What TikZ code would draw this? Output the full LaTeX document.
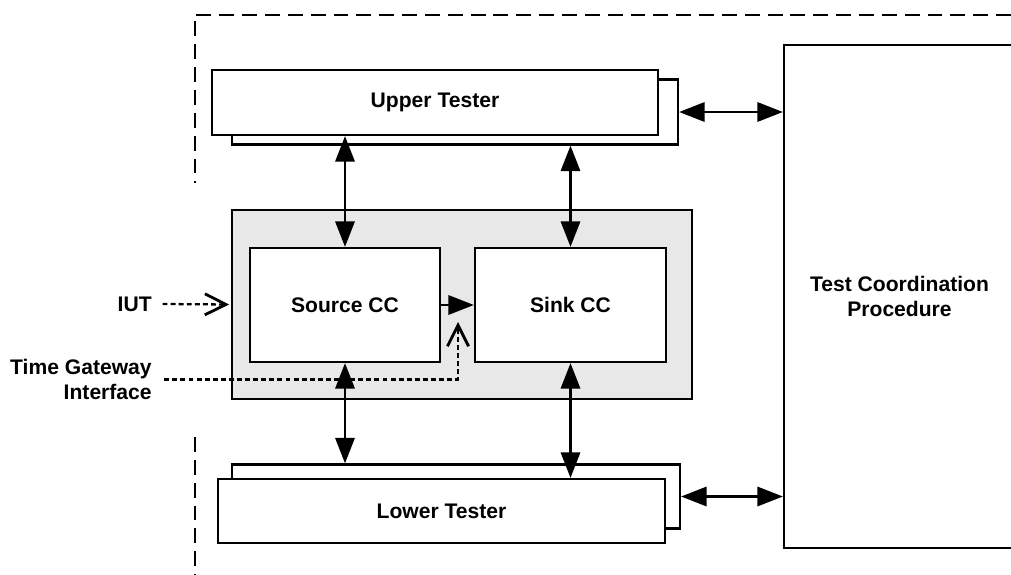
\documentclass[tikz,border=0pt]{standalone}
\usepackage{fontspec}
\setmainfont{Liberation Sans}
\usepackage{tikz}
\usetikzlibrary{arrows.meta,calc}
\newcommand{\twoway}{{Triangle[length=14.5pt,width=11pt]}-{Triangle[length=14.5pt,width=11pt]}}
\newcommand{\oneway}{-{Triangle[length=14.5pt,width=11pt]}}
\newcommand{\openway}{-{Straight Barb[length=12pt,width=12pt,line width=1.6pt]}}
\tikzset{
  blk/.style={draw,line width=1.3pt,fill=white,inner sep=0pt,font=\bfseries\fontsize{12}{14.2}\selectfont,align=center},
  lbl/.style={inner sep=0pt,font=\bfseries\fontsize{12}{14.2}\selectfont},
  lnk/.style={line width=1.3pt},
  dsh/.style={line width=1.3pt,dash pattern=on 2.8pt off 1.8pt},
  border/.style={line width=0.9pt,dash pattern=on 8.5pt off 4.5pt}
}

\begin{document}
\begin{tikzpicture}[x=0.2mm,y=-0.2mm]
  \useasboundingbox (0,0) rectangle (1011,575);
  % dashed frame
  \draw[border] (1011,15) -- (195,15) -- (195,183);
  \draw[border] (195,437) -- (195,575);
  % coordination box
  \node[blk,minimum width=46.2mm,minimum height=100.6mm] (tcp) at (899.5,296.5) {Test Coordination\\Procedure};
  % testers
  \node[blk,minimum width=89.2mm,minimum height=13mm] (utb) at (455,112) {};
  \node[blk,minimum width=89.2mm,minimum height=13mm] (ut) at (435,102.5) {Upper Tester};
  \node[blk,minimum width=89.6mm,minimum height=12.8mm] (ltb) at (456,496.5) {};
  \node[blk,minimum width=89.4mm,minimum height=12.8mm] (lt) at (441.5,511) {Lower Tester};
  % implementation under test
  \node[blk,fill=black!9,minimum width=92mm,minimum height=37.8mm] (iutbox) at (462,304.5) {};
  \node[blk,minimum width=38mm,minimum height=22.8mm] (src) at (345,305) {Source CC};
  \node[blk,minimum width=38.2mm,minimum height=22.8mm] (snk) at (570.5,305) {Sink CC};
  \coordinate (tgw) at (458,322);
  % labels
  \node[lbl,anchor=east] (iut) at (152,304) {IUT};
  \node[lbl,anchor=east,align=right] (tgi) at (152,379.5) {Time Gateway\\Interface};
  % links
  \draw[lnk,\twoway] (src.north |- ut.south) -- (src.north);
  \draw[lnk,\twoway] (snk.north |- utb.south) -- (snk.north);
  \draw[lnk,\twoway] (src.south) -- (src.south |- ltb.north);
  \draw[lnk,\twoway] (snk.south) -- (snk.south |- lt.north);
  \draw[lnk,\oneway] (src.east) -- (snk.west);
  \draw[lnk,\twoway] (utb.east) -- (utb.east -| tcp.west);
  \draw[lnk,\twoway] (ltb.east) -- (ltb.east -| tcp.west);
  \draw[dsh,\openway] ([xshift=6pt]iut.east) -- ([xshift=-1pt]iutbox.west);
  \draw[dsh,\openway] ([xshift=7pt]tgi.east) -| (tgw);
\end{tikzpicture}
\end{document}
